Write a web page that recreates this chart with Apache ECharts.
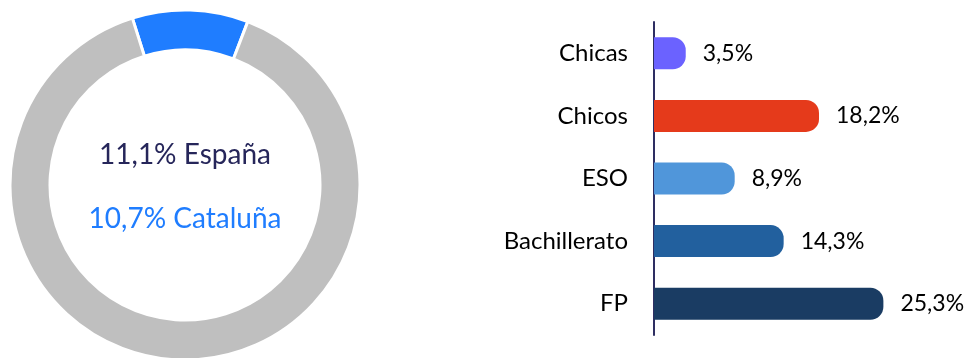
<!DOCTYPE html>
<html>
<head>
<meta charset="utf-8">
<script src="https://cdn.jsdelivr.net/npm/echarts@6/dist/echarts.min.js"></script>
<style>
html,body{margin:0;padding:0;background:#fff;}
#c{width:967px;height:358px;}
</style>
</head>
<body>
<div id="c"></div>
<script>
// Donut data
const donutNames = ['Cataluña', 'Resto'];
const donutValues = [10.7, 89.3];
const donutColors = ['#1F7DFF', '#BFBFBF'];
const centerTexts = ['11,1% España', '10,7% Cataluña'];

// Bar data
const categories = ['Chicas', 'Chicos', 'ESO', 'Bachillerato', 'FP'];
const barValues = [3.5, 18.2, 8.9, 14.3, 25.3];
const barColors = ['#6B62FF', '#E53A1B', '#5096DA', '#22609E', '#1A3C63'];

const chart = echarts.init(document.getElementById('c'));
const fmt = v => v.toFixed(1).replace('.', ',') + '%';

chart.setOption({
  animation: false,
  backgroundColor: '#fff',
  graphic: [
    {type: 'text', style: {text: centerTexts[0], x: 185, y: 155, textAlign: 'center', textVerticalAlign: 'middle',
             font: '28px Lato', fill: '#26265A'}},
    {type: 'text', style: {text: centerTexts[1], x: 185, y: 219, textAlign: 'center', textVerticalAlign: 'middle',
             font: '28px Lato', fill: '#1F7DFF'}}
  ],
  grid: {left: 654, right: 41, top: 22, bottom: 23, containLabel: false},
  xAxis: {type: 'value', min: 0, max: 30, show: false},
  yAxis: {
    type: 'category', data: categories, inverse: true,
    axisLine: {show: true, lineStyle: {color: '#2E2E62', width: 2}},
    axisTick: {show: false},
    axisLabel: {margin: 26, fontFamily: 'Lato', fontSize: 24, color: '#000'}
  },
  series: [
    {
      type: 'pie', center: [185, 185], radius: [135, 175], startAngle: 107.5, clockwise: true,
      label: {show: false}, labelLine: {show: false}, silent: true,
      itemStyle: {borderColor: '#fff', borderWidth: 3},
      data: donutValues.map((v, i) => ({name: donutNames[i], value: v, itemStyle: {color: donutColors[i]}}))
    },
    {
      type: 'bar', barWidth: 32,
      data: barValues.map((v, i) => ({value: v, itemStyle: {color: barColors[i], borderRadius: [0, 13, 13, 0]}})),
      label: {show: true, position: 'right', distance: 17, fontFamily: 'Lato', fontSize: 23, color: '#000',
              formatter: p => fmt(p.value)}
    }
  ]
});
</script>
</body>
</html>
